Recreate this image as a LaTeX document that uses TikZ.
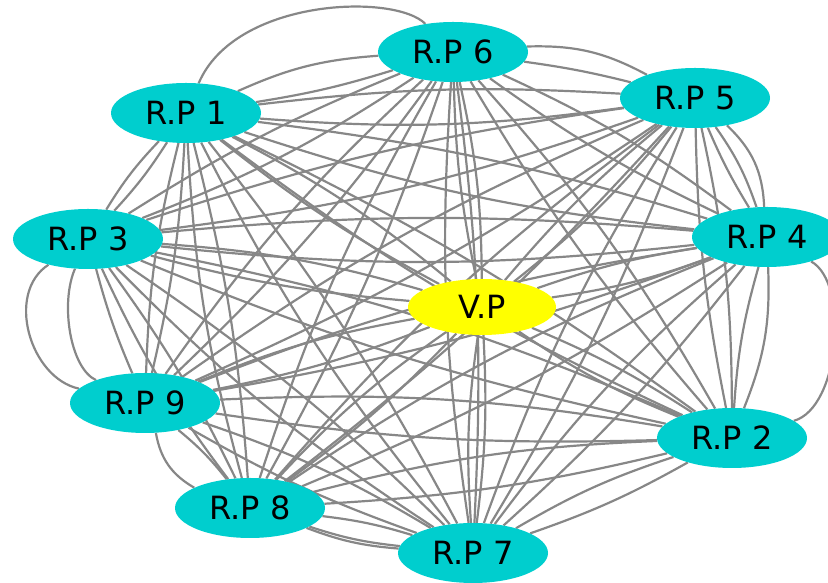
\documentclass[tikz,border=0pt]{standalone}
\usepackage{fontspec}
\setmainfont{DejaVu Sans}
\usetikzlibrary{shapes.geometric,backgrounds}
\definecolor{rpcol}{RGB}{0,206,206}
\definecolor{vpcol}{RGB}{255,255,0}
\definecolor{edgecol}{RGB}{135,135,135}
\begin{document}
\begin{tikzpicture}[x=1pt,y=1pt,
  rp/.style={ellipse,fill=rpcol,minimum width=150pt,minimum height=60pt,inner sep=0pt,
    font=\fontsize{32}{34}\selectfont},
  vp/.style={rp,fill=vpcol,minimum width=148pt,minimum height=56pt},
  edge/.style={draw=edgecol,line width=2.2pt}]
\useasboundingbox (0,0) rectangle (828,583);
\node[rp] (r6) at (453,531) {R.P 6};
\node[rp] (r1) at (186,470) {R.P 1};
\node[rp] (r5) at (695,485) {R.P 5};
\node[rp] (r3) at (88,344) {R.P 3};
\node[rp] (r4) at (767,346) {R.P 4};
\node[vp] (rv) at (482,276) {V.P};
\node[rp] (r9) at (145,180) {R.P 9};
\node[rp] (r2) at (732,145) {R.P 2};
\node[rp] (r8) at (250,75) {R.P 8};
\node[rp] (r7) at (473,30) {R.P 7};
\begin{pgfonlayer}{background}
\foreach \a/\b in {1/2,1/3,1/4,1/5,1/7,1/8,1/9,
  2/3,2/5,2/6,2/7,2/8,2/9,
  3/4,3/5,3/6,3/7,3/8,
  4/6,4/7,4/8,4/9,
  5/7,5/8,5/9,
  6/7,6/8,6/9,
  7/9,8/7,
  v/1,v/2,v/3,v/4,v/5,v/6,v/7,v/8,v/9}{
  \draw[edge] (r\a) to[bend left=5] (r\b);
  \draw[edge] (r\a) to[bend right=6] (r\b);
}
% outer arcs
\draw[edge] (r1) .. controls (235,585) and (395,590) .. (r6);
\draw[edge] (r1) to[bend left=10] (r6);
\draw[edge] (r1) to[bend right=4] (r6);
\draw[edge] (r6) to[bend left=15] (r5);
\draw[edge] (r6) to[bend left=3] (r5);
\draw[edge] (r5) to[bend left=22] (r4);
\draw[edge] (r5) to[bend left=8] (r4);
\draw[edge] (r5) to[bend right=4] (r4);
\draw[edge] (r4) .. controls (850,300) and (840,175) .. (r2);
\draw[edge] (r4) to[bend left=12] (r2);
\draw[edge] (r4) to[bend right=6] (r2);
\draw[edge] (r3) .. controls (5,290) and (30,205) .. (r9);
\draw[edge] (r3) .. controls (60,280) and (70,215) .. (r9);
\draw[edge] (r3) to[bend right=4] (r9);
\draw[edge] (r9) to[bend right=25] (r8);
\draw[edge] (r9) to[bend left=6] (r8);
\draw[edge] (r8) to[bend right=8] (r7);
\end{pgfonlayer}
\end{tikzpicture}
\end{document}
